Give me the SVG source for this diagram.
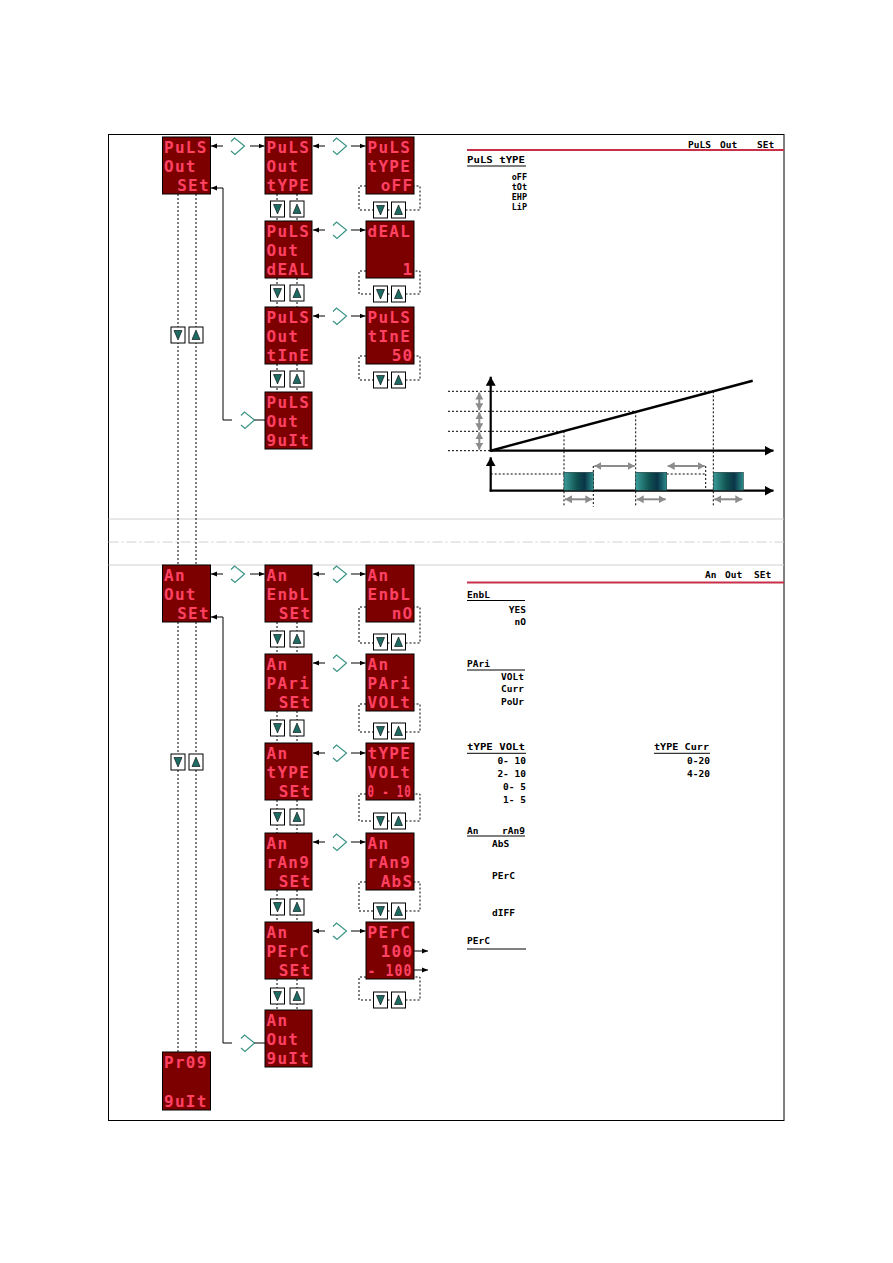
<svg xmlns="http://www.w3.org/2000/svg" width="893" height="1263" viewBox="0 0 893 1263">
<defs>
<style>
.disp{fill:#7d0000;stroke:#000;stroke-width:1}
.seg{font-family:"DejaVu Sans Mono",monospace;font-size:16px;font-weight:bold;fill:#ff4163;letter-spacing:1.3px}
.r{text-anchor:end}
.lcd{font-family:"DejaVu Sans Mono",monospace;font-size:9.5px;font-weight:bold;fill:#000}
.sm{font-size:8.5px}
.btn{fill:#fff;stroke:#000;stroke-width:1}
.tri{fill:#1e6b63;stroke:#000;stroke-width:0.6}
.dash{fill:none;stroke:#000;stroke-width:1;stroke-dasharray:2,2}
.ln{fill:none;stroke:#000;stroke-width:1}
.chev{fill:none;stroke:#3a9484;stroke-width:1.2}
.garr{fill:none;stroke:#8c8c8c;stroke-width:2;marker-start:url(#gh);marker-end:url(#gh)}
.ax{fill:none;stroke:#000;stroke-width:2.2;marker-end:url(#bh)}
.sep{stroke:#d0d0d0;stroke-width:1}
.ul{stroke:#000;stroke-width:1}
.red{stroke:#c8304a;stroke-width:2}
</style>
<marker id="ah" markerWidth="6" markerHeight="6" refX="6" refY="3" orient="auto" markerUnits="userSpaceOnUse"><path d="M0,0.5 L6,3 L0,5.5z" fill="#000"/></marker>
<marker id="gh" markerWidth="7" markerHeight="8" refX="7" refY="4" orient="auto-start-reverse" markerUnits="userSpaceOnUse"><path d="M0,0 L7,4 L0,8z" fill="#8c8c8c"/></marker>
<marker id="bh" markerWidth="9" markerHeight="10" refX="9" refY="5" orient="auto" markerUnits="userSpaceOnUse"><path d="M0,0 L9,5 L0,10z" fill="#000"/></marker>
<g id="bd"><rect class="btn" x="0" y="0" width="14" height="16"/><polygon class="tri" points="3,3.5 11,3.5 7,13"/></g>
<g id="bu"><rect class="btn" x="0" y="0" width="14" height="16"/><polygon class="tri" points="7,3 11,12.5 3,12.5"/></g>
<path id="chv" class="chev" d="M0,4 L3.5,0.5 L13.5,8.5 L4,17 L0,13.5"/>
<linearGradient id="pg" x1="0" y1="0" x2="1" y2="0">
<stop offset="0" stop-color="#3a9c98"/>
<stop offset="0.45" stop-color="#0f5050"/>
<stop offset="0.7" stop-color="#0a3548"/>
<stop offset="1" stop-color="#2c8c8a"/>
</linearGradient>
</defs>

<rect x="0" y="0" width="893" height="1263" fill="#fff"/>
<rect x="108.5" y="134.5" width="675.5" height="986" fill="none" stroke="#000" stroke-width="1"/>
<line class="sep" x1="108.5" y1="519" x2="784" y2="519"/>
<line class="sep" x1="108.5" y1="542" x2="784" y2="542" stroke-dasharray="10,3,2,3"/>
<line class="sep" x1="108.5" y1="565" x2="784" y2="565"/>

<g id="connectors">
<line class="dash" x1="178" y1="194" x2="178" y2="565"/>
<line class="dash" x1="196" y1="194" x2="196" y2="565"/>
<line class="dash" x1="178" y1="622" x2="178" y2="1052"/>
<line class="dash" x1="196" y1="622" x2="196" y2="1052"/>
<path class="dash" d="M277,194V221 M297,194V221 M277,278V307 M297,278V307 M277,364V392 M297,364V392"/>
<path class="dash" d="M277,622V654 M297,622V654 M277,711V743 M297,711V743 M277,800V833 M297,800V833 M277,890V922 M297,890V922 M277,979V1010 M297,979V1010"/>
<path class="dash" d="M366,186H359V210H373.5 M387.5,210H391.5 M405.5,210H420V186H414"/>
<path class="dash" d="M366,271H359V294H373.5 M387.5,294H391.5 M405.5,294H420V271H414"/>
<path class="dash" d="M366,356H359V380H373.5 M387.5,380H391.5 M405.5,380H420V356H414"/>
<path class="dash" d="M366,607H359V643H373.5 M387.5,643H391.5 M405.5,643H420V607H414"/>
<path class="dash" d="M366,704H359V732H373.5 M387.5,732H391.5 M405.5,732H420V704H414"/>
<path class="dash" d="M366,794H359V821H373.5 M387.5,821H391.5 M405.5,821H420V794H414"/>
<path class="dash" d="M366,882H359V911H373.5 M387.5,911H391.5 M405.5,911H420V882H414"/>
<path class="dash" d="M366,977H359V1000H373.5 M387.5,1000H391.5 M405.5,1000H420V977H414"/>
<line class="ln" x1="223" y1="146" x2="211" y2="146" marker-end="url(#ah)"/>
<use href="#chv" x="231" y="137.5"/>
<line class="ln" x1="250" y1="146" x2="264.5" y2="146" marker-end="url(#ah)"/>
<line class="ln" x1="325" y1="146" x2="313" y2="146" marker-end="url(#ah)"/>
<use href="#chv" x="333" y="137.5"/>
<line class="ln" x1="351" y1="146" x2="365.5" y2="146" marker-end="url(#ah)"/>
<line class="ln" x1="325" y1="230" x2="313" y2="230" marker-end="url(#ah)"/>
<use href="#chv" x="333" y="221.5"/>
<line class="ln" x1="351" y1="230" x2="365.5" y2="230" marker-end="url(#ah)"/>
<line class="ln" x1="325" y1="316" x2="313" y2="316" marker-end="url(#ah)"/>
<use href="#chv" x="333" y="307.5"/>
<line class="ln" x1="351" y1="316" x2="365.5" y2="316" marker-end="url(#ah)"/>
<polyline class="ln" points="232,420 223,420 223,188 211,188" marker-end="url(#ah)"/>
<use href="#chv" x="241" y="411.5"/>
<line class="ln" x1="254.5" y1="420" x2="265" y2="420"/>
<line class="ln" x1="223" y1="574" x2="211" y2="574" marker-end="url(#ah)"/>
<use href="#chv" x="231" y="565.5"/>
<line class="ln" x1="250" y1="574" x2="264.5" y2="574" marker-end="url(#ah)"/>
<line class="ln" x1="325" y1="574" x2="313" y2="574" marker-end="url(#ah)"/>
<use href="#chv" x="333" y="565.5"/>
<line class="ln" x1="351" y1="574" x2="365.5" y2="574" marker-end="url(#ah)"/>
<line class="ln" x1="325" y1="663" x2="313" y2="663" marker-end="url(#ah)"/>
<use href="#chv" x="333" y="654.5"/>
<line class="ln" x1="351" y1="663" x2="365.5" y2="663" marker-end="url(#ah)"/>
<line class="ln" x1="325" y1="753" x2="313" y2="753" marker-end="url(#ah)"/>
<use href="#chv" x="333" y="744.5"/>
<line class="ln" x1="351" y1="753" x2="365.5" y2="753" marker-end="url(#ah)"/>
<line class="ln" x1="325" y1="842" x2="313" y2="842" marker-end="url(#ah)"/>
<use href="#chv" x="333" y="833.5"/>
<line class="ln" x1="351" y1="842" x2="365.5" y2="842" marker-end="url(#ah)"/>
<line class="ln" x1="325" y1="931" x2="313" y2="931" marker-end="url(#ah)"/>
<use href="#chv" x="333" y="922.5"/>
<line class="ln" x1="351" y1="931" x2="365.5" y2="931" marker-end="url(#ah)"/>
<polyline class="ln" points="232,1043 223,1043 223,617 211,617" marker-end="url(#ah)"/>
<use href="#chv" x="241" y="1034.5"/>
<line class="ln" x1="254.5" y1="1043" x2="265" y2="1043"/>
<line class="ln" x1="414" y1="951" x2="428" y2="951" marker-end="url(#ah)"/>
<line class="ln" x1="414" y1="970" x2="428" y2="970" marker-end="url(#ah)"/>
</g>

<g id="buttons">
<use href="#bd" x="171" y="327"/><use href="#bu" x="189" y="327"/>
<use href="#bd" x="171" y="754"/><use href="#bu" x="189" y="754"/>
<use href="#bd" x="270.5" y="201"/><use href="#bu" x="290" y="201"/>
<use href="#bd" x="270.5" y="285"/><use href="#bu" x="290" y="285"/>
<use href="#bd" x="270.5" y="371"/><use href="#bu" x="290" y="371"/>
<use href="#bd" x="373.5" y="202"/><use href="#bu" x="391.5" y="202"/>
<use href="#bd" x="373.5" y="286"/><use href="#bu" x="391.5" y="286"/>
<use href="#bd" x="373.5" y="372"/><use href="#bu" x="391.5" y="372"/>
<use href="#bd" x="270.5" y="631"/><use href="#bu" x="290" y="631"/>
<use href="#bd" x="270.5" y="720"/><use href="#bu" x="290" y="720"/>
<use href="#bd" x="270.5" y="809"/><use href="#bu" x="290" y="809"/>
<use href="#bd" x="270.5" y="899"/><use href="#bu" x="290" y="899"/>
<use href="#bd" x="270.5" y="988"/><use href="#bu" x="290" y="988"/>
<use href="#bd" x="373.5" y="634"/><use href="#bu" x="391.5" y="634"/>
<use href="#bd" x="373.5" y="723"/><use href="#bu" x="391.5" y="723"/>
<use href="#bd" x="373.5" y="813"/><use href="#bu" x="391.5" y="813"/>
<use href="#bd" x="373.5" y="903"/><use href="#bu" x="391.5" y="903"/>
<use href="#bd" x="373.5" y="992"/><use href="#bu" x="391.5" y="992"/>
</g>

<g id="n_puls_out_set"><rect class="disp" x="162.5" y="137" width="48" height="57"/>
<text class="seg" x="164" y="152.5">PuLS</text><text class="seg" x="164" y="171.5">Out</text><text class="seg r" x="210" y="190.5">SEt</text></g>
<g id="n_puls_out_type"><rect class="disp" x="265" y="137" width="47" height="57"/>
<text class="seg" x="266.5" y="152.5">PuLS</text><text class="seg" x="266.5" y="171.5">Out</text><text class="seg" x="266.5" y="190.5">tYPE</text></g>
<g id="n_puls_type_off"><rect class="disp" x="366" y="137" width="48" height="57"/>
<text class="seg" x="367.5" y="152.5">PuLS</text><text class="seg" x="367.5" y="171.5">tYPE</text><text class="seg r" x="413.5" y="190.5">oFF</text></g>
<g id="n_puls_out_deal"><rect class="disp" x="265" y="221" width="47" height="57"/>
<text class="seg" x="266.5" y="236.5">PuLS</text><text class="seg" x="266.5" y="255.5">Out</text><text class="seg" x="266.5" y="274.5">dEAL</text></g>
<g id="n_deal_1"><rect class="disp" x="366" y="221" width="48" height="57"/>
<text class="seg" x="367.5" y="236.5">dEAL</text><text class="seg r" x="413.5" y="274.5">1</text></g>
<g id="n_puls_out_time"><rect class="disp" x="265" y="307" width="47" height="57"/>
<text class="seg" x="266.5" y="322.5">PuLS</text><text class="seg" x="266.5" y="341.5">Out</text><text class="seg" x="266.5" y="360.5">tInE</text></g>
<g id="n_puls_time_50"><rect class="disp" x="366" y="307" width="48" height="57"/>
<text class="seg" x="367.5" y="322.5">PuLS</text><text class="seg" x="367.5" y="341.5">tInE</text><text class="seg r" x="413.5" y="360.5">50</text></g>
<g id="n_puls_out_quit"><rect class="disp" x="265" y="392" width="47" height="57"/>
<text class="seg" x="266.5" y="407.5">PuLS</text><text class="seg" x="266.5" y="426.5">Out</text><text class="seg" x="266.5" y="445.5">9uIt</text></g>

<g id="n_an_out_set"><rect class="disp" x="162.5" y="565" width="48" height="57"/>
<text class="seg" x="164" y="580.5">An</text><text class="seg" x="164" y="599.5">Out</text><text class="seg r" x="210" y="618.5">SEt</text></g>
<g id="n_an_enbl_set"><rect class="disp" x="265" y="565" width="47" height="57"/>
<text class="seg" x="266.5" y="580.5">An</text><text class="seg" x="266.5" y="599.5">EnbL</text><text class="seg r" x="311.5" y="618.5">SEt</text></g>
<g id="n_an_enbl_no"><rect class="disp" x="366" y="565" width="48" height="57"/>
<text class="seg" x="367.5" y="580.5">An</text><text class="seg" x="367.5" y="599.5">EnbL</text><text class="seg r" x="413.5" y="618.5">nO</text></g>
<g id="n_an_pari_set"><rect class="disp" x="265" y="654" width="47" height="57"/>
<text class="seg" x="266.5" y="669.5">An</text><text class="seg" x="266.5" y="688.5">PAri</text><text class="seg r" x="311.5" y="707.5">SEt</text></g>
<g id="n_an_pari_volt"><rect class="disp" x="366" y="654" width="48" height="57"/>
<text class="seg" x="367.5" y="669.5">An</text><text class="seg" x="367.5" y="688.5">PAri</text><text class="seg" x="367.5" y="707.5">VOLt</text></g>
<g id="n_an_type_set"><rect class="disp" x="265" y="743" width="47" height="57"/>
<text class="seg" x="266.5" y="758.5">An</text><text class="seg" x="266.5" y="777.5">tYPE</text><text class="seg r" x="311.5" y="796.5">SEt</text></g>
<g id="n_type_volt"><rect class="disp" x="366" y="743" width="48" height="57"/>
<text class="seg" x="367.5" y="758.5">tYPE</text><text class="seg" x="367.5" y="777.5">VOLt</text><text class="seg" x="367.5" y="796.5" textLength="44" lengthAdjust="spacingAndGlyphs">0 - 10</text></g>
<g id="n_an_rang_set"><rect class="disp" x="265" y="833" width="47" height="57"/>
<text class="seg" x="266.5" y="848.5">An</text><text class="seg" x="266.5" y="867.5">rAn9</text><text class="seg r" x="311.5" y="886.5">SEt</text></g>
<g id="n_an_rang_abs"><rect class="disp" x="366" y="833" width="48" height="57"/>
<text class="seg" x="367.5" y="848.5">An</text><text class="seg" x="367.5" y="867.5">rAn9</text><text class="seg r" x="413.5" y="886.5">AbS</text></g>
<g id="n_an_perc_set"><rect class="disp" x="265" y="922" width="47" height="57"/>
<text class="seg" x="266.5" y="937.5">An</text><text class="seg" x="266.5" y="956.5">PErC</text><text class="seg r" x="311.5" y="975.5">SEt</text></g>
<g id="n_perc_100"><rect class="disp" x="366" y="922" width="48" height="57"/>
<text class="seg" x="367.5" y="937.5">PErC</text><text class="seg r" x="413.5" y="956.5">100</text><text class="seg" x="367.5" y="975.5" textLength="45" lengthAdjust="spacingAndGlyphs">- 100</text></g>
<g id="n_an_out_quit"><rect class="disp" x="265" y="1010" width="47" height="57"/>
<text class="seg" x="266.5" y="1025.5">An</text><text class="seg" x="266.5" y="1044.5">Out</text><text class="seg" x="266.5" y="1063.5">9uIt</text></g>
<g id="n_prog_quit"><rect class="disp" x="162.5" y="1052" width="48" height="58"/>
<text class="seg" x="164" y="1067.5">Pr09</text><text class="seg" x="164" y="1106.5">9uIt</text></g>

<g id="panel1">
<text class="lcd" x="688" y="148">PuLS</text><text class="lcd" x="720" y="148">Out</text><text class="lcd" x="757" y="148">SEt</text>
<line class="red" x1="467" y1="150" x2="784" y2="150"/>
<text class="lcd" x="467" y="163" textLength="58" lengthAdjust="spacingAndGlyphs">PuLS tYPE</text>
<line class="ul" x1="467" y1="166" x2="526" y2="166"/>
<text class="lcd sm r" x="527" y="180">oFF</text>
<text class="lcd sm r" x="527" y="190">tOt</text>
<text class="lcd sm r" x="527" y="200">EHP</text>
<text class="lcd sm r" x="527" y="210">LiP</text>
</g>

<g id="chart">
<path class="dash" d="M448,391.3H713.3 M448,411.3H635.7 M448,431.3H564 M448,450.7H490"/>
<path class="dash" d="M564,431.3V506.7 M635.7,411.3V506.7 M713.3,391.3V506.7 M593.3,466V506.7 M705.7,466V490.7"/>
<path class="dash" d="M490.7,474H564 M666.7,474H705.7"/>
<line x1="490.7" y1="450.7" x2="752.7" y2="380.7" stroke="#000" stroke-width="2.5"/>
<line class="ax" x1="490.7" y1="451.5" x2="490.7" y2="376.7"/>
<line class="ax" x1="489.7" y1="450.7" x2="773.5" y2="450.7"/>
<line class="ax" x1="490.7" y1="491.5" x2="490.7" y2="457.3"/>
<line class="ax" x1="489.7" y1="490.7" x2="773.5" y2="490.7"/>
<rect x="564" y="472.3" width="29.3" height="18" fill="url(#pg)" stroke="#1a3a3a" stroke-width="0.6"/>
<rect x="635.7" y="472.3" width="31" height="18" fill="url(#pg)" stroke="#1a3a3a" stroke-width="0.6"/>
<rect x="713.3" y="472.3" width="30" height="18" fill="url(#pg)" stroke="#1a3a3a" stroke-width="0.6"/>
<line class="garr" x1="479.3" y1="392.5" x2="479.3" y2="410.3"/>
<line class="garr" x1="479.3" y1="412.3" x2="479.3" y2="430.3"/>
<line class="garr" x1="479.3" y1="432.3" x2="479.3" y2="449.7"/>
<line class="garr" x1="565" y1="499.3" x2="592.3" y2="499.3"/>
<line class="garr" x1="636.7" y1="499.3" x2="665.7" y2="499.3"/>
<line class="garr" x1="714.3" y1="499.3" x2="742.3" y2="499.3"/>
<line class="garr" x1="594.3" y1="466" x2="634.7" y2="466"/>
<line class="garr" x1="667.7" y1="466" x2="704.7" y2="466"/>
</g>

<g id="panel2">
<text class="lcd" x="705" y="578">An</text><text class="lcd" x="725" y="578">Out</text><text class="lcd" x="754" y="578">SEt</text>
<line class="red" x1="467" y1="582.5" x2="784" y2="582.5"/>
<text class="lcd" x="467" y="597.5">EnbL</text>
<line class="ul" x1="467" y1="600.5" x2="525" y2="600.5"/>
<text class="lcd r" x="526" y="613">YES</text>
<text class="lcd r" x="526" y="625">nO</text>
<text class="lcd" x="467" y="667">PAri</text>
<line class="ul" x1="467" y1="670" x2="525" y2="670"/>
<text class="lcd r" x="524" y="680">VOLt</text>
<text class="lcd r" x="524" y="692">Curr</text>
<text class="lcd r" x="524" y="705">PoUr</text>
<text class="lcd" x="467" y="750" textLength="58" lengthAdjust="spacingAndGlyphs">tYPE VOLt</text>
<line class="ul" x1="467" y1="753.3" x2="526" y2="753.3"/>
<text class="lcd r" x="526" y="764">0- 10</text>
<text class="lcd r" x="526" y="777">2- 10</text>
<text class="lcd r" x="526" y="790">0- 5</text>
<text class="lcd r" x="526" y="803">1- 5</text>
<text class="lcd" x="654" y="750" textLength="55" lengthAdjust="spacingAndGlyphs">tYPE Curr</text>
<line class="ul" x1="654" y1="753.3" x2="710" y2="753.3"/>
<text class="lcd r" x="710" y="764">0-20</text>
<text class="lcd r" x="710" y="777">4-20</text>
<text class="lcd" x="467" y="834">An</text>
<text class="lcd r" x="525" y="834">rAn9</text>
<line class="ul" x1="467" y1="836" x2="525" y2="836"/>
<text class="lcd" x="492" y="847">AbS</text>
<text class="lcd" x="492" y="878.5">PErC</text>
<text class="lcd" x="492" y="916">dIFF</text>
<text class="lcd" x="467" y="944">PErC</text>
<line class="ul" x1="467" y1="949" x2="526" y2="949"/>
</g>
</svg>
